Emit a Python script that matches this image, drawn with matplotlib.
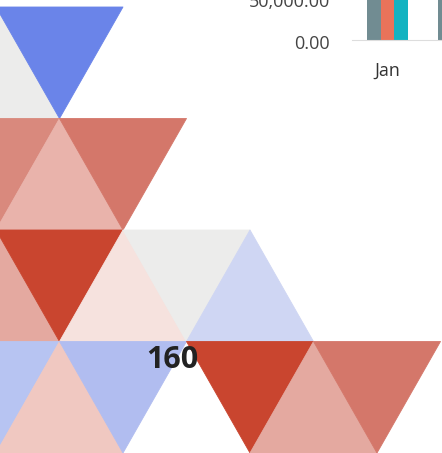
import numpy as np
import matplotlib
matplotlib.use("Agg")
import matplotlib.pyplot as plt
from matplotlib.collections import PolyCollection
from matplotlib.colors import LinearSegmentedColormap, Normalize
from matplotlib.ticker import FuncFormatter

plt.rcParams['font.family'] = ['Open Sans', 'DejaVu Sans']

# ---------------- data ----------------
# triangle-grid values, one list per row (NaN = empty cell)
nan = np.nan
row0 = [100, 30, nan]
row1 = [165, 140, 172]
row2 = [148, 195, 110, 100, 88]
row3 = [78, 125, 70, nan, 195, 148, 172, nan]
grid_rows = [row0, row1, row2, row3]
highlight_label = "160"

# bar chart data (only the start of it is visible)
months = ["Jan", "Feb"]
series_a = [120000, 115000]
series_b = [110000, 98000]
series_c = [130000, 105000]
bar_ticks = [0, 50000]

# ---------------- figure ----------------
W, H = 442, 453
fig = plt.figure(figsize=(W / 100, H / 100), dpi=100)
fig.patch.set_facecolor('white')

# triangle heat grid
ax = fig.add_axes([0, 0, 1, 1])
ax.set_xlim(0, W)
ax.set_ylim(H, 0)
ax.axis('off')

half = 63.5
x0 = -4.0
top0 = 7.0
rh = 111.5

stops = [(0, '#3f5ddb'), (30, '#6a84e9'), (70, '#b1bdf0'), (78, '#b7c4f2'),
         (88, '#cfd6f3'), (100, '#ececec'), (110, '#f6e2de'), (125, '#f0c9c2'),
         (140, '#e9b4ac'), (148, '#e4a9a0'), (165, '#d98a7e'), (172, '#d4786b'),
         (195, '#c9452f'), (200, '#c4402b')]
cmap = LinearSegmentedColormap.from_list('tri', [(v / 200, c) for v, c in stops])
cmap.set_bad('white')
norm = Normalize(0, 200)

polys, vals = [], []
for r, row in enumerate(grid_rows):
    yt = top0 + r * rh
    yb = yt + rh
    for c, v in enumerate(row):
        if np.isnan(v):
            continue
        xc = x0 + c * half
        if (r + c) % 2 == 0:   # upward
            pts = [(xc, yt), (xc - half, yb), (xc + half, yb)]
        else:                  # downward
            pts = [(xc - half, yt), (xc + half, yt), (xc, yb)]
        polys.append(pts)
        vals.append(v)

pc = PolyCollection(polys, array=np.array(vals), cmap=cmap, norm=norm,
                    edgecolors='face', linewidths=0.6)
ax.add_collection(pc)
ax.text(172, 360, highlight_label, ha='center', va='center',
        fontsize=22, fontweight='bold', color='#222222')

# bar chart fragment
px_per_cat = 71
ax_h_px = 200
ymax = ax_h_px / 42 * 50000
left_px = 352
axis_y_px = 40
bax = fig.add_axes([left_px / W, (H - axis_y_px) / H,
                    len(months) * px_per_cat / W, ax_h_px / H])
bax.patch.set_alpha(0)
x = np.arange(len(months))
bw = 13.6 / px_per_cat
bax.bar(x - bw, series_a, bw, color='#718c92')
bax.bar(x, series_b, bw, color='#e9735a')
bax.bar(x + bw, series_c, bw, color='#13b3c1')
bax.set_xlim(-0.5, len(months) - 0.5)
bax.set_ylim(0, ymax)
bax.set_yticks(bar_ticks)
bax.yaxis.set_major_formatter(FuncFormatter(lambda v, p: f"{v:,.2f}"))
bax.set_xticks(x)
bax.set_xticklabels(months)
for s in ['top', 'right', 'left']:
    bax.spines[s].set_visible(False)
bax.spines['bottom'].set_color('#dddddd')
bax.tick_params(axis='y', length=0, pad=16, labelsize=13, labelcolor='#444444')
bax.tick_params(axis='x', length=0, pad=15.5, labelsize=13, labelcolor='#333333')
for t in bax.get_yticklabels():
    t.set_y(t.get_position()[1])
bax.yaxis.set_tick_params(which='major')
import matplotlib.transforms as mtransforms
for t in bax.get_yticklabels():
    t.set_transform(t.get_transform() + mtransforms.ScaledTranslation(0, -2 / 100, fig.dpi_scale_trans))

fig.savefig('out.png', dpi=100, facecolor='white')
